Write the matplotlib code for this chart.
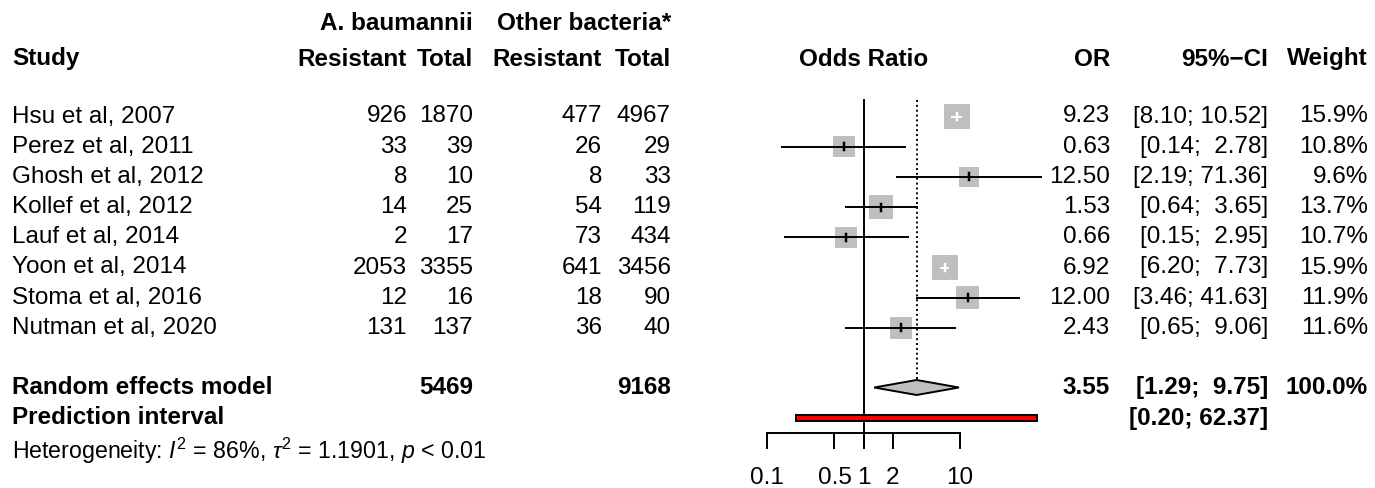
import numpy as np
import matplotlib
matplotlib.use("Agg")
import matplotlib.pyplot as plt
from matplotlib.patches import Polygon, Rectangle

plt.rcParams['font.family'] = ['Liberation Sans', 'DejaVu Sans']
plt.rcParams['mathtext.fontset'] = 'custom'
plt.rcParams['mathtext.rm'] = 'Liberation Sans'
plt.rcParams['mathtext.it'] = 'Liberation Sans:italic'
plt.rcParams['mathtext.bf'] = 'Liberation Sans:bold'

# ---------------- data ----------------
studies = ["Hsu et al, 2007", "Perez et al, 2011", "Ghosh et al, 2012", "Kollef et al, 2012",
           "Lauf et al, 2014", "Yoon et al, 2014", "Stoma et al, 2016", "Nutman et al, 2020"]
ab_resistant = [926, 33, 8, 14, 2, 2053, 12, 131]
ab_total = [1870, 39, 10, 25, 17, 3355, 16, 137]
oth_resistant = [477, 26, 8, 54, 73, 641, 18, 36]
oth_total = [4967, 29, 33, 119, 434, 3456, 90, 40]
or_est = [9.23, 0.63, 12.50, 1.53, 0.66, 6.92, 12.00, 2.43]
ci_low = [8.10, 0.14, 2.19, 0.64, 0.15, 6.20, 3.46, 0.65]
ci_high = [10.52, 2.78, 71.36, 3.65, 2.95, 7.73, 41.63, 9.06]
weights = [15.9, 10.8, 9.6, 13.7, 10.7, 15.9, 11.9, 11.6]

re_or, re_low, re_high = 3.55, 1.29, 9.75
pi_low, pi_high = 0.20, 62.37
ab_sum_total, oth_sum_total = 5469, 9168
x_ticks = [0.1, 0.5, 1, 2, 10]
x_tick_labels = ["0.1", "0.5", "1", "2", "10"]
het_text = r"Heterogeneity: $I^2$ = 86%, $\tau^2$ = 1.1901, $p$ < 0.01"

# ---------------- layout ----------------
W, H, DPI = 1375, 488, 100
fig = plt.figure(figsize=(W / DPI, H / DPI), dpi=DPI)
fs = 17.5

# text axes in pixel coordinates
tax = fig.add_axes([0, 0, 1, 1])
tax.set_xlim(0, W)
tax.set_ylim(H, 0)
tax.axis('off')

# forest axes: log scale, x mapping 1 -> px 863.5, 96.5 px per decade
px_one, px_dec = 863.5, 96.5
fax = fig.add_axes([0, 0, 1, 1], sharey=tax)
fax.set_xscale('log')
fax.set_xlim(10 ** (-px_one / px_dec), 10 ** ((W - px_one) / px_dec))
fax.patch.set_alpha(0)
fax.axis('off')

row0, drow = 116.5, 30.2
rows = [row0 + i * drow for i in range(len(studies))]
y_head1, y_head2 = 23, 59
y_re = 387.5
y_pi = 418
y_het = 451
y_axis = 433
y_ticklab = 478

col_study = 12
col_abr, col_abt, col_otr, col_ott = 407, 473, 602, 671
col_or, col_ci, col_w = 1110, 1268, 1368

def txt(x, y, s, ha='left', bold=False, size=fs):
    tax.text(x, y, s, ha=ha, va='center', fontsize=size,
             fontweight='bold' if bold else 'normal')

# headers
txt(col_abt, y_head1, "A. baumannii", 'right', True)
txt(col_ott, y_head1, "Other bacteria*", 'right', True)
txt(col_study, y_head2, "Study", 'left', True)
txt(col_abr, y_head2, "Resistant", 'right', True)
txt(col_abt, y_head2, "Total", 'right', True)
txt(col_otr, y_head2, "Resistant", 'right', True)
txt(col_ott, y_head2, "Total", 'right', True)
txt(px_one, y_head2, "Odds Ratio", 'center', True)
txt(col_or, y_head2, "OR", 'right', True)
txt(col_ci, y_head2, "95%\u2212CI", 'right', True)
txt(col_w, y_head2, "Weight", 'right', True)

def fmt_ci(lo, hi):
    sep = ";  " if hi < 10 else "; "
    return "[{:.2f}{}{:.2f}]".format(lo, sep, hi)

for i, y in enumerate(rows):
    txt(col_study, y, studies[i])
    txt(col_abr, y, str(ab_resistant[i]), 'right')
    txt(col_abt, y, str(ab_total[i]), 'right')
    txt(col_otr, y, str(oth_resistant[i]), 'right')
    txt(col_ott, y, str(oth_total[i]), 'right')
    txt(col_or, y, "{:.2f}".format(or_est[i]), 'right')
    txt(col_ci, y, fmt_ci(ci_low[i], ci_high[i]), 'right')
    txt(col_w, y, "{:.1f}%".format(weights[i]), 'right')

txt(col_study, y_re, "Random effects model", 'left', True)
txt(col_abt, y_re, str(ab_sum_total), 'right', True)
txt(col_ott, y_re, str(oth_sum_total), 'right', True)
txt(col_or, y_re, "{:.2f}".format(re_or), 'right', True)
txt(col_ci, y_re, fmt_ci(re_low, re_high), 'right', True)
txt(col_w, y_re, "100.0%", 'right', True)
txt(col_study, y_pi, "Prediction interval", 'left', True)
txt(col_ci, y_pi, fmt_ci(pi_low, pi_high), 'right', True)
txt(col_study, y_het, het_text, 'left', False, fs * 0.95)

# ---------------- forest ----------------
lw = 1.4
# reference lines
fax.plot([1, 1], [100, y_axis + 15], color='black', lw=lw, zorder=1)
fax.plot([re_or, re_or], [100, y_re - 8], color='black', lw=lw, ls=(0, (1, 1.5)), zorder=1)

px2pt = 72 / DPI
for i, y in enumerate(rows):
    side_px = 6.5 * np.sqrt(weights[i])
    fax.scatter([or_est[i]], [y], marker='s', s=(side_px * px2pt) ** 2,
                color='#bfbfbf', edgecolors='none', zorder=2)
    lo_px = px_one + px_dec * np.log10(ci_low[i])
    hi_px = px_one + px_dec * np.log10(ci_high[i])
    c_px = px_one + px_dec * np.log10(or_est[i])
    inside = (c_px - lo_px) < side_px / 2 and (hi_px - c_px) < side_px / 2
    col = 'white' if inside else 'black'
    fax.plot([ci_low[i], ci_high[i]], [y, y], color=col, lw=lw, zorder=3, solid_capstyle='butt')
    fax.plot([or_est[i], or_est[i]], [y - 3.5, y + 3.5], color=col, lw=lw + 0.4, zorder=3)

# diamond
diamond = Polygon([(re_low, y_re), (re_or, y_re - 7.5), (re_high, y_re), (re_or, y_re + 7.5)],
                  closed=True, facecolor='#bfbfbf', edgecolor='black', lw=lw, zorder=3)
fax.add_patch(diamond)

# prediction interval
pi_rect = Rectangle((pi_low, y_pi - 2.8), pi_high - pi_low, 5.6,
                    facecolor='red', edgecolor='black', lw=lw, zorder=3)
fax.add_patch(pi_rect)

# x axis
fax.plot([x_ticks[0], x_ticks[-1]], [y_axis, y_axis], color='black', lw=lw, zorder=1)
for t, lab in zip(x_ticks, x_tick_labels):
    fax.plot([t, t], [y_axis, y_axis + 15], color='black', lw=lw, zorder=1)
    fax.text(t, y_ticklab, lab, ha='center', va='center', fontsize=fs)

fig.savefig("out.png", dpi=DPI)
